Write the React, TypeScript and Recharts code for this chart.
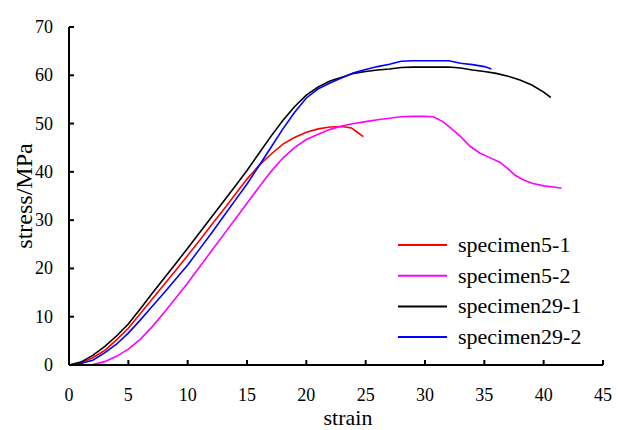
import React from 'react';
import { LineChart, Line, XAxis, YAxis, Legend } from 'recharts';

const xTicks = [0, 5, 10, 15, 20, 25, 30, 35, 40, 45];
const yTicks = [0, 10, 20, 30, 40, 50, 60, 70];

const specimen5_1 = [
  [0, 0], [1, 0.4], [2, 1.5], [3, 3], [4, 5.2], [5, 7.6], [6, 10.6], [7, 13.6], [8, 16.6], [9, 19.6],
  [10, 22.7], [11, 25.8], [12, 29], [13, 32.1], [14, 35.3], [15, 38.5], [16, 41.3], [17, 43.6], [18, 45.7],
  [19, 47.1], [20, 48.2], [21, 48.9], [22, 49.3], [23, 49.4], [23.8, 49.1], [24.3, 48.2], [24.8, 47.3],
];

const specimen5_2 = [
  [0, 0], [1, 0], [2, 0.1], [3, 0.7], [4, 1.8], [5, 3.3], [6, 5.3], [7, 7.9], [8, 10.8], [9, 13.9],
  [10, 17], [11, 20.3], [12, 23.6], [13, 26.9], [14, 30.2], [15, 33.5], [16, 36.8], [17, 40], [18, 42.8],
  [19, 45], [20, 46.7], [21, 47.8], [22, 48.8], [23, 49.5], [24, 50], [25, 50.4], [26, 50.8], [27, 51.1],
  [28, 51.4], [29, 51.5], [30, 51.5], [30.7, 51.4], [31.5, 50.4], [32.2, 49], [33, 47.3], [33.8, 45.3],
  [34.6, 43.9], [35.5, 42.9], [36.3, 42], [37, 40.6], [37.6, 39.3], [38.3, 38.3], [39.1, 37.6], [40, 37.1],
  [41, 36.8], [41.5, 36.6],
];

const specimen29_1 = [
  [0, 0], [1, 0.6], [2, 2], [3, 3.8], [4, 6], [5, 8.5], [6, 11.6], [7, 14.8], [8, 17.9], [9, 21],
  [10, 24.2], [11, 27.4], [12, 30.6], [13, 33.8], [14, 37], [15, 40.3], [16, 43.8], [17, 47.3], [18, 50.6],
  [19, 53.5], [20, 55.9], [21, 57.6], [22, 58.8], [23, 59.6], [24, 60.4], [25, 60.8], [26, 61.1], [27, 61.3],
  [28, 61.6], [29, 61.7], [30, 61.7], [31, 61.7], [32, 61.7], [33, 61.5], [34, 61.1], [35, 60.8],
  [36, 60.4], [37, 59.8], [38, 59], [39, 58], [40, 56.5], [40.6, 55.4],
];

const specimen29_2 = [
  [0, 0], [1, 0.3], [2, 1], [3, 2.5], [4, 4.3], [5, 6.6], [6, 9.3], [7, 12.1], [8, 14.9], [9, 17.8],
  [10, 20.7], [11, 24], [12, 27.3], [13, 30.7], [14, 34.1], [15, 37.5], [16, 41.2], [17, 45], [18, 48.8],
  [19, 52.3], [20, 55.3], [21, 57.2], [22, 58.4], [23, 59.5], [24, 60.5], [25, 61.2], [26, 61.8], [27, 62.3],
  [28, 62.9], [29, 63], [30, 63], [31, 63], [32, 63], [33, 62.5], [34, 62.2], [35, 61.8], [35.6, 61.3],
];

const seriesNames = ['specimen5-1', 'specimen5-2', 'specimen29-1', 'specimen29-2'];
const seriesColors = ['#ff0000', '#ff00ff', '#000000', '#0000ff'];
const seriesData = [specimen5_1, specimen5_2, specimen29_1, specimen29_2];

const FONT = "'Liberation Serif', 'Times New Roman', Times, serif";
const textStyle = (size: number) => ({ fontFamily: FONT, fontSize: size });

const toPoints = (arr: number[][]) => arr.map(([x, y]) => ({ x, y }));

const XTick = (props: any) => {
  const { x, y, payload } = props;
  return (
    <g>
      <line x1={x} y1={y} x2={x} y2={y - 5} stroke="#000" strokeWidth={2} />
      <text x={x} y={y + 36} textAnchor="middle" style={textStyle(18)} fill="#000">
        {payload.value}
      </text>
    </g>
  );
};

const YTick = (props: any) => {
  const { x, y, payload } = props;
  return (
    <g>
      <line x1={x} y1={y} x2={x + 5} y2={y} stroke="#000" strokeWidth={2} />
      <text x={x - 16} y={y + 6} textAnchor="end" style={textStyle(18)} fill="#000">
        {payload.value}
      </text>
    </g>
  );
};

const XLabel = (props: any) => {
  const vb = props.viewBox || { x: 61, y: 357, width: 534, height: 65 };
  return (
    <text x={vb.x + vb.width / 2 + 12} y={vb.y + 60} textAnchor="middle" style={textStyle(22)} fill="#000">
      strain
    </text>
  );
};

const YLabel = (props: any) => {
  const vb = props.viewBox || { x: 0, y: 19, width: 61, height: 338 };
  const cy = vb.y + vb.height / 2;
  return (
    <text transform={`translate(24, ${cy}) rotate(-90)`} x={0} y={0} textAnchor="middle" style={textStyle(24)} fill="#000">
      stress/MPa
    </text>
  );
};

const LegendContent = () => (
  <svg width={612} height={422} style={{ position: 'absolute', left: 0, top: 0, overflow: 'visible' }}>
    {seriesNames.map((name, i) => {
      const cy = 237 + i * 30.7;
      return (
        <g key={name}>
          <line x1={390} y1={cy} x2={439} y2={cy} stroke={seriesColors[i]} strokeWidth={2} />
          <text x={450} y={cy + 7} style={textStyle(22)} fill="#000">
            {name}
          </text>
        </g>
      );
    })}
  </svg>
);

export default function App() {
  return (
    <div style={{ width: 612, height: 422, background: '#fff', fontFamily: FONT }}>
      <LineChart width={612} height={422} margin={{ top: 19, right: 17, left: 0, bottom: 0 }} style={{ fontFamily: FONT }}>
        <XAxis
          type="number"
          dataKey="x"
          domain={[0, 45]}
          ticks={xTicks}
          interval={0}
          height={65}
          tickSize={0}
          tickMargin={0}
          tickLine={false}
          axisLine={{ stroke: '#000', strokeWidth: 2 }}
          tick={<XTick />}
          label={<XLabel />}
        />
        <YAxis
          type="number"
          domain={[0, 70]}
          ticks={yTicks}
          interval={0}
          width={61}
          tickSize={0}
          tickMargin={0}
          tickLine={false}
          axisLine={{ stroke: '#000', strokeWidth: 2 }}
          tick={<YTick />}
          label={<YLabel />}
        />
        <Legend
          layout="vertical"
          align="center"
          verticalAlign="middle"
          content={<LegendContent />}
          wrapperStyle={{ position: 'absolute', left: 0, top: 0, width: 612, height: 422, pointerEvents: 'none' }}
        />
        {seriesData.map((d, i) => (
          <Line
            key={seriesNames[i]}
            name={seriesNames[i]}
            data={toPoints(d)}
            dataKey="y"
            type="linear"
            stroke={seriesColors[i]}
            strokeWidth={1.6}
            dot={false}
            activeDot={false}
            isAnimationActive={false}
          />
        ))}
      </LineChart>
    </div>
  );
}
